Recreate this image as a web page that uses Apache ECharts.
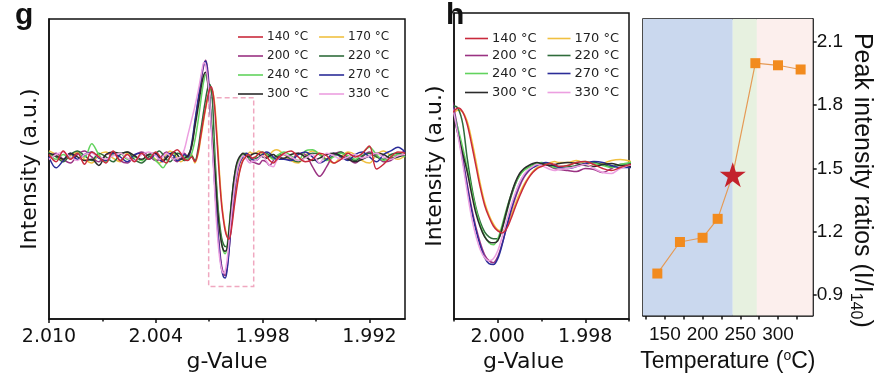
<!DOCTYPE html>
<html>
<head>
<meta charset="utf-8">
<script src="https://cdn.jsdelivr.net/npm/echarts@6/dist/echarts.min.js"></script>
<style>
html,body{margin:0;padding:0;background:#fff;}
#chart{width:878px;height:378px;}
</style>
</head>
<body>
<div id="chart"></div>
<script>
// g-values shared by all spectra (x axis of panels g and h)
const gValues = [
  2.0100, 2.0096, 2.0092, 2.0088, 2.0084, 2.0080, 2.0076, 2.0072, 2.0068, 2.0064, 2.0060, 2.0056, 2.0052, 2.0048, 2.0044,
  2.0040, 2.0038, 2.0036, 2.0034, 2.0032, 2.0030, 2.0028, 2.0026, 2.0024, 2.0022, 2.0020, 2.0018,
  2.0016, 2.0015, 2.0014, 2.0013, 2.0012, 2.0011, 2.0010, 2.0009, 2.0008, 2.0007, 2.0006, 2.0005, 2.0004, 2.0003, 2.0002, 2.0001,
  2.0000, 1.9999, 1.9998, 1.9997, 1.9996, 1.9995, 1.9994, 1.9993, 1.9992, 1.9991, 1.9990, 1.9989, 1.9988, 1.9987, 1.9986,
  1.9984, 1.9982, 1.9980, 1.9978, 1.9976, 1.9974, 1.9972,
  1.9968, 1.9964, 1.9960, 1.9956, 1.9952, 1.9948, 1.9944, 1.9940, 1.9936, 1.9932, 1.9928, 1.9924, 1.9920, 1.9916, 1.9912, 1.9908, 1.9904, 1.9900
];
// spectra intensities (a.u.), one value per g-value
const s140 = [
  0.02, -0.04, 0.05, -0.02, 0.03, -0.06, 0.04, 0.00, -0.05, 0.05, -0.03, 0.02, -0.04, 0.03, -0.02,
  0.04, 0.01, -0.03, -0.05, 0.00, 0.04, 0.06, 0.03, -0.02, -0.03, 0.00, -0.04,
  0.06, 0.15, 0.24, 0.33, 0.41, 0.49, 0.55, 0.58, 0.54, 0.42, 0.22, 0.00, -0.22, -0.40, -0.52, -0.61,
  -0.66, -0.68, -0.64, -0.54, -0.42, -0.31, -0.21, -0.13, -0.07, -0.03, -0.01, 0.01, 0.02, 0.01, -0.01,
  0.00, 0.03, 0.04, 0.01, -0.03, -0.05, -0.02,
  0.03, 0.05, 0.00, -0.04, -0.02, 0.03, 0.01, -0.05, -0.02, 0.03, 0.00, 0.03, 0.09, -0.10, -0.06, 0.00, 0.04, 0.03
];
const s170 = [
  0.05, 0.02, -0.03, 0.01, 0.04, -0.02, -0.05, 0.02, 0.04, -0.01, -0.04, 0.03, 0.01, -0.03, 0.02,
  -0.02, -0.05, -0.03, 0.02, 0.05, 0.03, -0.01, -0.04, -0.02, 0.01, 0.02, -0.05,
  0.04, 0.13, 0.22, 0.31, 0.40, 0.47, 0.53, 0.56, 0.54, 0.45, 0.27, 0.05, -0.18, -0.37, -0.50, -0.59,
  -0.65, -0.66, -0.61, -0.51, -0.39, -0.28, -0.19, -0.12, -0.06, -0.02, 0.00, 0.02, 0.03, 0.04, 0.03,
  0.03, 0.05, 0.02, -0.01, 0.02, 0.05, 0.06,
  0.02, -0.03, -0.05, 0.01, 0.05, 0.03, -0.02, -0.05, 0.00, 0.04, 0.02, -0.03, -0.05, 0.02, 0.05, 0.01, -0.02, 0.01
];
const s200 = [
  -0.01, 0.03, -0.02, -0.05, 0.02, 0.05, 0.00, -0.04, 0.02, 0.03, -0.03, -0.05, 0.01, 0.04, 0.01,
  -0.03, -0.02, 0.02, 0.04, 0.01, -0.02, -0.04, 0.00, 0.03, 0.00, 0.08, 0.28,
  0.48, 0.58, 0.68, 0.76, 0.80, 0.74, 0.57, 0.34, 0.08, -0.18, -0.42, -0.62, -0.78, -0.90, -0.96, -0.98,
  -0.92, -0.79, -0.63, -0.47, -0.33, -0.21, -0.12, -0.06, -0.02, 0.01, 0.02, 0.01, -0.01, -0.03, -0.04,
  -0.05, -0.06, -0.03, -0.04, -0.07, -0.03, 0.01,
  -0.02, -0.02, 0.03, 0.02, -0.08, -0.16, -0.08, 0.02, 0.04, -0.01, -0.05, 0.00, 0.04, 0.01, -0.04, -0.03, 0.02, 0.05
];
const s220 = [
  0.03, 0.00, -0.04, 0.02, 0.05, 0.01, -0.03, 0.03, 0.00, -0.04, 0.02, 0.04, -0.02, -0.05, 0.00,
  0.03, 0.05, 0.02, -0.02, -0.04, -0.01, 0.03, 0.02, -0.03, -0.02, 0.01, -0.03,
  0.09, 0.19, 0.29, 0.39, 0.48, 0.56, 0.60, 0.57, 0.42, 0.08, -0.20, -0.42, -0.57, -0.67, -0.72, -0.74,
  -0.74, -0.64, -0.48, -0.32, -0.19, -0.10, -0.04, -0.01, 0.01, 0.02, 0.02, 0.01, 0.00, -0.01, -0.01,
  -0.01, 0.00, 0.02, 0.03, 0.01, -0.01, 0.01,
  0.02, -0.02, -0.04, 0.00, 0.03, 0.02, -0.02, 0.01, 0.04, 0.00, -0.03, 0.01, 0.03, 0.00, -0.02, 0.02, 0.03, 0.01
];
const s240 = [
  0.04, -0.02, 0.02, -0.01, 0.03, 0.00, 0.11, 0.02, -0.04, 0.02, 0.03, -0.02, 0.00, -0.03, 0.02,
  -0.03, -0.06, -0.09, -0.05, 0.00, 0.03, 0.02, -0.01, 0.01, -0.02, 0.02, 0.14,
  0.32, 0.43, 0.54, 0.63, 0.68, 0.64, 0.52, 0.36, 0.18, -0.02, -0.24, -0.44, -0.60, -0.71, -0.78, -0.80,
  -0.74, -0.60, -0.44, -0.30, -0.18, -0.10, -0.05, -0.02, 0.00, 0.02, 0.03, 0.02, 0.00, -0.02, -0.02,
  0.00, 0.03, 0.04, 0.02, 0.00, -0.02, 0.01,
  0.04, 0.01, -0.03, 0.05, 0.06, 0.02, -0.03, 0.00, 0.03, 0.01, -0.02, 0.03, 0.08, 0.02, -0.03, 0.00, 0.02, 0.00
];
const s270 = [
  0.00, -0.09, -0.03, 0.03, -0.02, 0.02, 0.04, -0.01, -0.03, 0.03, 0.00, -0.04, 0.02, 0.03, -0.02,
  0.02, -0.02, -0.04, 0.00, 0.03, 0.01, -0.03, -0.02, 0.02, 0.00, 0.10, 0.30,
  0.50, 0.60, 0.70, 0.77, 0.79, 0.71, 0.53, 0.31, 0.05, -0.21, -0.45, -0.65, -0.81, -0.93, -0.99, -1.00,
  -0.94, -0.80, -0.62, -0.45, -0.30, -0.18, -0.10, -0.05, -0.02, 0.00, 0.02, 0.03, 0.02, 0.00, -0.02,
  -0.03, -0.01, 0.02, 0.04, 0.03, 0.00, -0.02,
  -0.02, -0.03, 0.02, 0.04, 0.00, -0.05, -0.02, 0.03, 0.00, -0.03, 0.02, 0.04, 0.00, -0.04, 0.02, 0.05, 0.08, 0.04
];
const s300 = [
  0.03, 0.01, -0.02, 0.03, 0.00, -0.03, -0.02, -0.07, 0.02, 0.04, 0.03, 0.04, 0.01, -0.02, 0.02,
  0.03, 0.00, -0.03, -0.01, 0.02, 0.04, 0.02, -0.02, -0.01, 0.01, 0.08, 0.25,
  0.43, 0.53, 0.62, 0.68, 0.70, 0.63, 0.48, 0.30, 0.12, -0.06, -0.28, -0.48, -0.62, -0.72, -0.77, -0.78,
  -0.76, -0.63, -0.46, -0.30, -0.17, -0.08, -0.03, 0.00, 0.02, 0.03, 0.02, 0.01, 0.00, 0.01, 0.02,
  0.03, 0.02, 0.00, -0.01, 0.01, 0.02, 0.00,
  -0.01, 0.02, 0.03, 0.00, -0.03, -0.01, 0.02, 0.03, 0.01, -0.02, -0.04, -0.02, 0.01, 0.03, 0.02, -0.01, 0.00, 0.02
];
const s330 = [
  -0.02, 0.02, 0.04, 0.00, -0.03, 0.02, 0.03, 0.00, -0.02, 0.01, 0.03, -0.01, -0.03, 0.02, 0.04,
  0.01, -0.02, 0.00, 0.03, 0.01, -0.02, -0.01, 0.00, 0.06, 0.18, 0.30, 0.42,
  0.56, 0.64, 0.72, 0.78, 0.76, 0.66, 0.52, 0.28, 0.02, -0.26, -0.52, -0.71, -0.85, -0.93, -0.96, -0.94,
  -0.86, -0.72, -0.56, -0.41, -0.28, -0.17, -0.09, -0.04, -0.01, 0.01, 0.00, -0.02, -0.04, -0.05, -0.04,
  -0.03, -0.01, 0.01, -0.03, -0.07, -0.08, -0.03,
  0.02, 0.00, -0.03, -0.01, 0.02, -0.05, 0.03, 0.01, -0.02, 0.00, 0.02, -0.01, 0.01, 0.03, 0.00, -0.02, 0.01, 0.02
];
const seriesNames = ['140 °C', '170 °C', '200 °C', '220 °C', '240 °C', '270 °C', '300 °C', '330 °C'];
const spectra = [s140, s170, s200, s220, s240, s270, s300, s330];

// panel right: peak intensity ratios
const temperatures = [140, 170, 200, 220, 240, 270, 300, 330];
const ratios = [1.00, 1.15, 1.17, 1.26, 1.47, 2.00, 1.99, 1.97];
const starTemp = 240;

// tick labels
const gTickLabels = [2.010, 2.004, 1.998, 1.992];
const gMinorTicks = [2.007, 2.001, 1.995];
const hTickLabels = [2.000, 1.998];
const hMinorTicks = [2.001, 1.999, 1.997];
const tempTickLabels = [150, 200, 250, 300];
const tempTicks = [125, 150, 175, 200, 225, 250, 275, 300, 325];
const ratioTickLabels = [0.9, 1.2, 1.5, 1.8, 2.1];

// annotations
const zoomBox = [2.00103, 0.49, 1.9985, -1.07];       // [g1, y1, g2, y2]
const regionBands = [[121, 240], [240, 272], [272, 346]];

const colors = ['#c92a3c', '#f0c040', '#9a3282', '#2f6c3b', '#62d35e', '#2b2c98', '#2b2b2b', '#ec9fe0'];
const bandColors = ['#cad8ee', '#e7f1e0', '#fcefed'];
const FONT = '"DejaVu Sans", sans-serif';
const FONT2 = '"Liberation Sans", Arial, sans-serif';

const chart = echarts.init(document.getElementById('chart'), null, {renderer: 'canvas'});

function pairs(ys) { return gValues.map((g, i) => [g, ys[i]]); }

const series = [];
['g', 'h'].forEach((panel, p) => {
  spectra.forEach((ys, i) => {
    const s = {
      name: seriesNames[i],
      type: 'line',
      xAxisIndex: p * 2,
      yAxisIndex: p,
      data: pairs(ys),
      showSymbol: false,
      smooth: 0.35,
      color: colors[i],
      lineStyle: {width: 1.5, color: colors[i]},
      z: 3 + (i === 0 ? 8 : i),
      clip: true
    };
    if (p === 0 && i === 0) {
      s.markArea = {
        silent: true,
        itemStyle: {color: 'rgba(0,0,0,0)', borderColor: '#f0a8c0', borderWidth: 1.5, borderType: [5, 3]},
        data: [[{coord: [zoomBox[0], zoomBox[1]]}, {coord: [zoomBox[2], zoomBox[3]]}]]
      };
    }
    series.push(s);
  });
});

series.push({
  type: 'line',
  xAxisIndex: 4,
  yAxisIndex: 2,
  data: temperatures.map((t, i) => {
    if (t === starTemp) {
      return {
        value: [t, ratios[i]],
        symbol: 'path://M50,0 L61.8,36.2 L100,36.2 L69.1,58.8 L80.9,95 L50,72.6 L19.1,95 L30.9,58.8 L0,36.2 L38.2,36.2 Z',
        symbolSize: [26, 25],
        itemStyle: {color: '#c3222c'}
      };
    }
    return [t, ratios[i]];
  }),
  symbol: 'rect',
  symbolSize: 10,
  itemStyle: {color: '#f28b1e'},
  lineStyle: {color: '#e59a55', width: 1.2},
  z: 5,
  markArea: {
    silent: true,
    data: regionBands.map((b, i) => [
      {xAxis: b[0], itemStyle: {color: bandColors[i]}},
      {xAxis: b[1]}
    ])
  }
});

function legendRows(left, tops, gap, iw, fs) {
  const out = [];
  for (let r = 0; r < 4; r++) {
    out.push({
      data: [seriesNames[r * 2], seriesNames[r * 2 + 1]],
      left: left, top: tops[r],
      orient: 'horizontal',
      icon: 'rect', itemWidth: iw, itemHeight: 1.6, itemGap: gap,
      padding: 0,
      selectedMode: false,
      textStyle: {fontFamily: FONT, fontSize: fs, color: '#222', padding: [0, 0, 0, -1]}
    });
  }
  return out;
}

const frame = {show: true, borderColor: '#111', borderWidth: 1.5, backgroundColor: 'transparent'};

const option = {
  animation: false,
  backgroundColor: '#fff',
  title: [
    {text: 'g', left: 10, top: -4, textStyle: {fontFamily: FONT2, fontSize: 30, fontWeight: 'bold', color: '#111'}},
    {text: 'h', left: 441, top: -4, textStyle: {fontFamily: FONT2, fontSize: 30, fontWeight: 'bold', color: '#111'}}
  ],
  legend: legendRows(238, [31, 50, 69, 88], 11, 25, 12).concat(legendRows(465, [32, 49, 67, 86], 11, 23, 13)),
  grid: [
    Object.assign({left: 49, top: 19, width: 356, height: 302}, frame),
    Object.assign({left: 454, top: 13, width: 175, height: 309}, frame),
    Object.assign({left: 643, top: 19, width: 170, height: 299}, frame)
  ],
  xAxis: [
    {
      gridIndex: 0, type: 'value', min: 1.990, max: 2.010, inverse: true,
      axisLine: {onZero: false, lineStyle: {color: '#111', width: 1.5}},
      axisTick: {customValues: gTickLabels, length: 4, lineStyle: {color: '#111', width: 1.5}},
      axisLabel: {customValues: gTickLabels, formatter: v => v.toFixed(3), fontFamily: FONT, fontSize: 19, color: '#111', margin: 8},
      splitLine: {show: false},
      name: 'g-Value', nameLocation: 'middle', nameGap: 25,
      nameTextStyle: {fontFamily: FONT, fontSize: 22, color: '#111', verticalAlign: 'top'}
    },
    {
      gridIndex: 0, type: 'value', min: 1.990, max: 2.010, inverse: true, position: 'bottom',
      axisLine: {show: false, onZero: false},
      axisTick: {customValues: gMinorTicks, length: 2.5, lineStyle: {color: '#111', width: 1.5}},
      axisLabel: {show: false}, splitLine: {show: false}
    },
    {
      gridIndex: 1, type: 'value', min: 1.997, max: 2.001, inverse: true,
      axisLine: {onZero: false, lineStyle: {color: '#111', width: 1.5}},
      axisTick: {customValues: hTickLabels, length: 4, lineStyle: {color: '#111', width: 1.5}},
      axisLabel: {customValues: hTickLabels, formatter: v => v.toFixed(3), fontFamily: FONT, fontSize: 19, color: '#111', margin: 8},
      splitLine: {show: false},
      name: 'g-Value', nameLocation: 'middle', nameGap: 25,
      nameTextStyle: {fontFamily: FONT, fontSize: 22, color: '#111', verticalAlign: 'top', padding: [0, 36, 0, 0]}
    },
    {
      gridIndex: 1, type: 'value', min: 1.997, max: 2.001, inverse: true, position: 'bottom',
      axisLine: {show: false, onZero: false},
      axisTick: {customValues: hMinorTicks, length: 2.5, lineStyle: {color: '#111', width: 1.5}},
      axisLabel: {show: false}, splitLine: {show: false}
    },
    {
      gridIndex: 2, type: 'value', min: 121, max: 346,
      axisLine: {onZero: false, lineStyle: {color: '#111', width: 1.5}},
      axisTick: {customValues: tempTicks, length: 4, lineStyle: {color: '#111', width: 1.5}},
      axisLabel: {customValues: tempTickLabels, fontFamily: FONT2, fontSize: 19, color: '#111', margin: 10},
      splitLine: {show: false},
      name: 'Temperature ({sup|o}C)', nameLocation: 'middle', nameGap: 30,
      nameTextStyle: {fontFamily: FONT2, fontSize: 23, color: '#111', verticalAlign: 'top',
        rich: {sup: {fontFamily: FONT2, fontSize: 14, color: '#111', verticalAlign: 'top', padding: [0, 0, 10, 0]}}}
    }
  ],
  yAxis: [
    {
      gridIndex: 0, type: 'value', min: -1.34, max: 1.14,
      axisLine: {show: true, onZero: false, lineStyle: {color: '#111', width: 1.5}},
      axisTick: {show: false}, axisLabel: {show: false}, splitLine: {show: false},
      name: 'Intensity (a.u.)', nameLocation: 'middle', nameGap: 8, nameRotate: 90,
      nameTextStyle: {fontFamily: FONT, fontSize: 22, color: '#111'}
    },
    {
      gridIndex: 1, type: 'value', min: -1.55, max: 1.54,
      axisLine: {show: true, onZero: false, lineStyle: {color: '#111', width: 1.5}},
      axisTick: {show: false}, axisLabel: {show: false}, splitLine: {show: false},
      name: 'Intensity (a.u.)', nameLocation: 'middle', nameGap: 8, nameRotate: 90,
      nameTextStyle: {fontFamily: FONT, fontSize: 22, color: '#111'}
    },
    {
      gridIndex: 2, type: 'value', min: 0.8, max: 2.21, position: 'right',
      axisLine: {show: true, onZero: false, lineStyle: {color: '#111', width: 1.5}},
      axisTick: {customValues: ratioTickLabels, length: 4, lineStyle: {color: '#111', width: 1.5}},
      axisLabel: {customValues: ratioTickLabels, formatter: v => v.toFixed(1), fontFamily: FONT2, fontSize: 19, color: '#111', margin: 4},
      splitLine: {show: false},
      name: 'Peak intensity ratios (I/I{sub|140})', nameLocation: 'middle', nameGap: 34, nameRotate: -90,
      nameTextStyle: {fontFamily: FONT2, fontSize: 25, color: '#111', lineHeight: 30, padding: [0, 0, 0, 26],
        rich: {sub: {fontFamily: FONT2, fontSize: 16, color: '#111', verticalAlign: 'bottom', lineHeight: 30, padding: [12, 0, 0, 0]}}}
    }
  ],
  series: series
};
chart.setOption(option);
</script>
</body>
</html>
